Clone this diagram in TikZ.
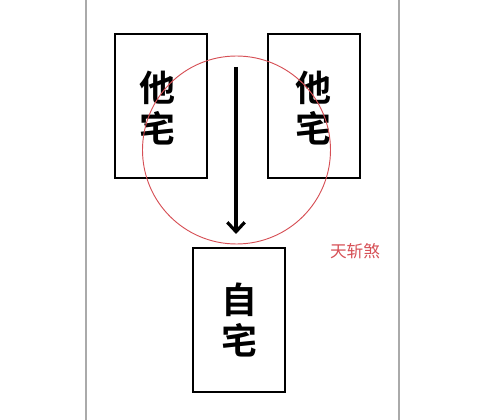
\documentclass[tikz,border=0pt]{standalone}
\usepackage{fontspec}
\newfontfamily\cjk{Noto Sans CJK SC}
\newfontfamily\cjkb{Noto Sans CJK SC Bold}
\usetikzlibrary{arrows.meta}
\definecolor{redc}{RGB}{214,80,86}
\definecolor{grayl}{RGB}{170,170,170}
\tikzset{
  house/.style={draw=black,line width=2.2pt,minimum width=69pt,minimum height=108pt,inner sep=0pt},
  bigch/.style={font=\cjkb\fontsize{27pt}{27pt}\selectfont,inner sep=0pt},
  lab/.style={font=\cjk\fontsize{12.5pt}{12.5pt}\selectfont,text=redc,inner sep=0pt},
  border/.style={draw=grayl,line width=0.8pt}
}
\begin{document}
\begin{tikzpicture}[x=0.75pt,y=-0.75pt]
\useasboundingbox (0,0) rectangle (500,420);
\coordinate (bl1) at (86,0); \coordinate (bl2) at (86,420);
\coordinate (br1) at (399,0); \coordinate (br2) at (399,420);
\draw[border] (bl1) -- (bl2);
\draw[border] (br1) -- (br2);
\node[house] (left) at (161,106) {};
\node[house] (right) at (314,106) {};
\node[house] (self) at (239,320) {};
\node[bigch] (l1) at (157,88) {他};
\node[bigch] (l2) at (157,128) {宅};
\node[bigch] (r1) at (313,88) {他};
\node[bigch] (r2) at (313,128) {宅};
\node[bigch] (s1) at (239,300) {自};
\node[bigch] (s2) at (239,340) {宅};
\node[draw=redc,line width=0.7pt,circle,minimum size=141pt,inner sep=0pt] (sha) at (236.5,150) {};
\coordinate (a1) at (236,67);
\coordinate (a2) at (236,234);
\draw[line width=2.6pt,-{Straight Barb[length=7pt,width=13pt,line width=2.4pt]}] (a1) -- (a2);
\node[lab] (t) at (355,251) {天斩煞};
\end{tikzpicture}
\end{document}
